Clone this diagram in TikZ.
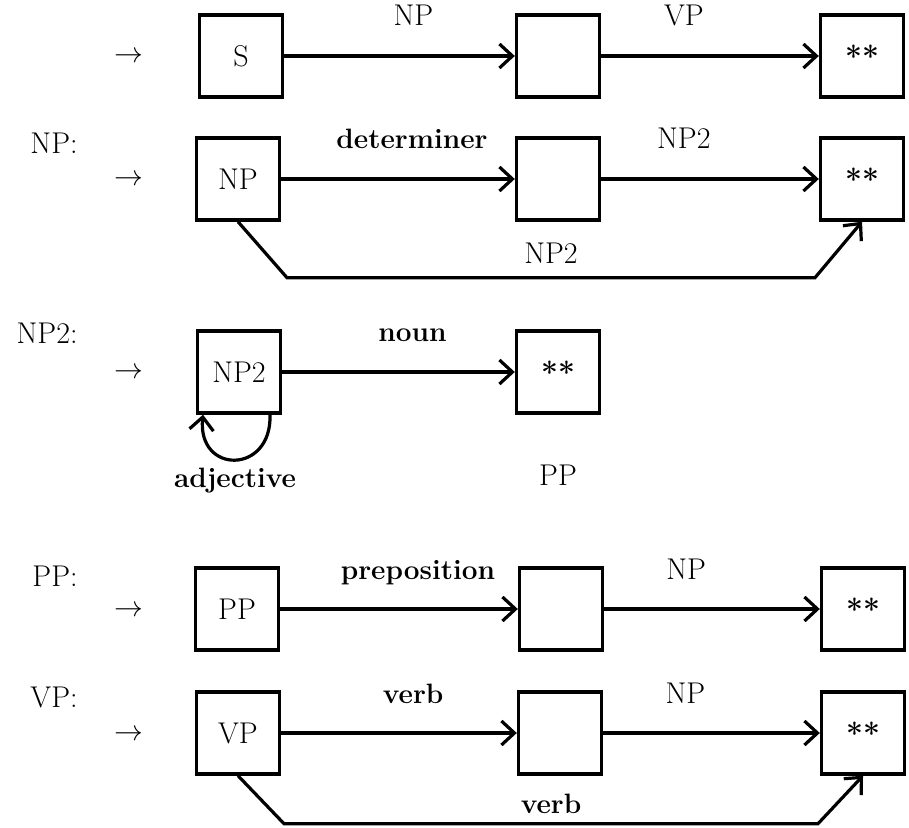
\documentclass[tikz,border=0pt]{standalone}
\usetikzlibrary{arrows.meta,positioning,calc}

\tikzset{
  box/.style={draw,line width=1.7pt,minimum width=41.5pt,minimum height=41pt,inner sep=0pt},
  arc/.style={-{Straight Barb[length=6.5pt,width=12pt]},line width=1.6pt},
  lbl/.style={inner sep=0pt,anchor=base,yshift=15pt},
  word/.style={lbl,font=\fontsize{14}{17}\selectfont\bfseries},
  under/.style={inner sep=0pt,anchor=base},
  title/.style={anchor=east,inner sep=0pt},
  entry/.style={inner sep=0pt},
}

\begin{document}
\begin{tikzpicture}[x=0.5pt,y=-0.5pt,font=\fontsize{15}{18}\selectfont]
\useasboundingbox (0,0) rectangle (909,828);

\node[entry] (e1) at (129,57) {$\rightarrow$};
\node[box] (s1) at (241,56) {S};
\node[box] (s2) at (558,56) {};
\node[box] (s3) at (862,56) {\textbf{**}};
\draw[arc] (s1) -- node[lbl,pos=0.56] {NP} (s2);
\draw[arc] (s2) -- node[lbl,pos=0.38] {VP} (s3);

\node[title] (t2) at (78,143) {NP:};
\node[entry] (e2) at (129,180) {$\rightarrow$};
\node[box] (n1) at (238,179) {NP};
\node[box] (n2) at (558,179) {};
\node[box] (n3) at (862,179) {\textbf{**}};
\draw[arc] (n1) -- node[word,pos=0.56] {determiner} (n2);
\draw[arc] (n2) -- node[lbl,pos=0.38] {NP2} (n3);
\draw[arc] (n1.south) -- ++(49,56) -- node[under,midway,yshift=7pt] {NP2} ++(528,0) -- (n3.south);

\node[title] (t3) at (78,333) {NP2:};
\node[entry] (e3) at (129,373) {$\rightarrow$};
\node[box] (a1) at (239,372) {NP2};
\node[box] (a2) at (558,372) {\textbf{**}};
\draw[arc] (a1) -- node[word,pos=0.56] {noun} (a2);
\draw[arc] ($(a1.south)+(31,0)$) .. controls +(2,60) and +(-6,60) .. node[under,midway,yshift=-14pt,font=\fontsize{14}{17}\selectfont\bfseries] {adjective} ($(a1.south)+(-36,0)$);
\node[inner sep=0pt] (pp) [below=25pt of a2] {PP};

\node[title] (t4) at (78,576) {PP:};
\node[entry] (e4) at (129,611) {$\rightarrow$};
\node[box] (p1) at (237,609) {PP};
\node[box] (p2) at (561,609) {};
\node[box] (p3) at (863,609) {\textbf{**}};
\draw[arc] (p1) -- node[word,pos=0.58] {preposition} (p2);
\draw[arc] (p2) -- node[lbl,pos=0.38] {NP} (p3);

\node[title] (t5) at (78,697) {VP:};
\node[entry] (e5) at (129,735) {$\rightarrow$};
\node[box] (v1) at (238,733) {VP};
\node[box] (v2) at (560,733) {};
\node[box] (v3) at (863,733) {\textbf{**}};
\draw[arc] (v1) -- node[word,pos=0.56] {verb} (v2);
\draw[arc] (v2) -- node[lbl,pos=0.38] {NP} (v3);
\draw[arc] (v1.south) -- ++(46,48) -- node[under,midway,yshift=5pt,font=\fontsize{14}{17}\selectfont\bfseries] {verb} ++(534,0) -- (v3.south);
\end{tikzpicture}
\end{document}
